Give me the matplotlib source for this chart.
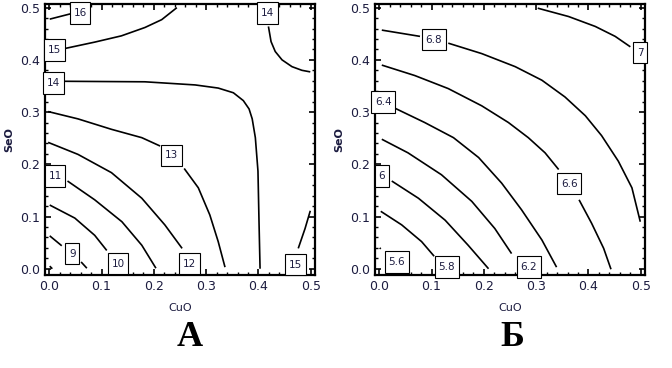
import matplotlib
matplotlib.use("Agg")
import matplotlib.pyplot as plt
from matplotlib.path import Path
from matplotlib.ticker import MultipleLocator

# contour lines, panel A (x = CuO, y = SeO)
a_lines = [
    [(0.001, 0.478), (0.040, 0.488)],
    [(0.031, 0.422), (0.087, 0.434), (0.138, 0.446), (0.183, 0.462), (0.215, 0.477), (0.244, 0.500)],
    [(0.419, 0.464), (0.424, 0.435), (0.432, 0.416), (0.445, 0.400), (0.464, 0.387), (0.483, 0.380),
     (0.499, 0.377)],
    [(0.027, 0.359), (0.183, 0.358), (0.279, 0.352), (0.323, 0.346), (0.352, 0.337), (0.371, 0.322),
     (0.382, 0.306), (0.388, 0.287), (0.394, 0.251), (0.399, 0.187), (0.401, 0.090), (0.403, 0.0)],
    [(-0.002, 0.301), (0.055, 0.287), (0.119, 0.267), (0.177, 0.251), (0.212, 0.235)],
    [(0.258, 0.192), (0.285, 0.155), (0.307, 0.103), (0.323, 0.052), (0.336, 0.003)],
    [(-0.002, 0.242), (0.055, 0.219), (0.119, 0.184), (0.177, 0.135), (0.221, 0.084), (0.254, 0.039)],
    [(0.035, 0.168), (0.087, 0.132), (0.139, 0.090), (0.177, 0.045), (0.204, 0.001)],
    [(0.001, 0.122), (0.049, 0.097), (0.087, 0.064), (0.110, 0.035)],
    [(0.001, 0.063), (0.024, 0.044)],
    [(0.061, 0.013), (0.072, 0.001)],
    [(0.001, 0.005), (0.006, 0.0)],
    [(0.499, 0.111), (0.489, 0.077), (0.476, 0.039)],
]
a_labels = ["16", "15", "14", "14", "13", "12", "11", "10", "9", "15"]
a_label_x = [0.059, 0.010, 0.417, 0.008, 0.234, 0.268, 0.011, 0.132, 0.044, 0.471]
a_label_y = [0.490, 0.419, 0.490, 0.356, 0.217, 0.010, 0.178, 0.010, 0.029, 0.008]

# panel B
b_lines = [
    [(0.303, 0.499), (0.362, 0.483), (0.413, 0.464), (0.451, 0.445), (0.480, 0.425)],
    [(0.005, 0.457), (0.078, 0.445)],
    [(0.132, 0.432), (0.196, 0.412), (0.260, 0.387), (0.311, 0.361), (0.355, 0.329), (0.394, 0.293),
     (0.425, 0.255), (0.457, 0.206), (0.483, 0.155), (0.499, 0.090)],
    [(0.005, 0.390), (0.068, 0.370), (0.132, 0.345), (0.196, 0.312), (0.247, 0.280), (0.285, 0.251),
     (0.317, 0.222), (0.343, 0.190)],
    [(0.382, 0.132), (0.406, 0.087), (0.429, 0.039), (0.443, -0.001)],
    [(0.031, 0.307), (0.087, 0.280), (0.142, 0.251), (0.190, 0.213), (0.234, 0.164), (0.272, 0.113),
     (0.311, 0.055), (0.339, 0.003)],
    [(0.005, 0.248), (0.055, 0.222), (0.119, 0.180), (0.177, 0.129), (0.221, 0.077), (0.253, 0.029)],
    [(0.024, 0.168), (0.075, 0.135), (0.126, 0.093), (0.170, 0.045), (0.209, 0.0)],
    [(0.003, 0.110), (0.043, 0.084), (0.081, 0.052), (0.105, 0.024)],
    [(0.001, 0.040), (0.003, 0.038)],
]
b_labels = ["7", "6.8", "6.6", "6.4", "6.2", "6", "5.8", "5.6"]
b_label_x = [0.499, 0.104, 0.363, 0.008, 0.286, 0.005, 0.129, 0.034]
b_label_y = [0.414, 0.439, 0.163, 0.319, 0.003, 0.178, 0.003, 0.013]

ticks = [0.0, 0.1, 0.2, 0.3, 0.4, 0.5]
tick_color = "#1c1c40"


def label_box(x0, y0, width, height, mutation_size):
    # taller than wide padding, like the Mathematica contour labels
    px = 0.35 * mutation_size
    py = 0.55 * mutation_size
    x0, y0 = x0 - px, y0 - py
    x1, y1 = x0 + width + 2 * px, y0 + height + 2 * py
    return Path([(x0, y0), (x1, y0), (x1, y1), (x0, y1), (x0, y0)],
                closed=True)


fig = plt.figure(figsize=(6.72, 3.68), dpi=100)
W, H = 672, 368
panels = [
    (45, a_lines, a_labels, a_label_x, a_label_y, "А", 190),
    (375, b_lines, b_labels, b_label_x, b_label_y, "Б", 512),
]
for left, lines, labels, lx, ly, letter, letter_x in panels:
    ax = fig.add_axes([left / W, (H - 275) / H, 270 / W, 271 / H])
    for seg in lines:
        xs = [p[0] for p in seg]
        ys = [p[1] for p in seg]
        ax.plot(xs, ys, color="black", lw=1.2, solid_capstyle="butt", solid_joinstyle="round")
    for t, x, y in zip(labels, lx, ly):
        ax.text(x, y, t, ha="center", va="center", fontsize=7.5, color=tick_color,
                bbox=dict(boxstyle=label_box, fc="white", ec="black", lw=0.8),
                zorder=5, clip_on=False)
    ax.set_xlim(-0.008, 0.508)
    ax.set_ylim(-0.012, 0.507)
    ax.set_xticks(ticks)
    ax.set_yticks(ticks)
    ax.xaxis.set_minor_locator(MultipleLocator(0.02))
    ax.yaxis.set_minor_locator(MultipleLocator(0.02))
    ax.tick_params(which="both", direction="in", top=True, right=True,
                   labelsize=9, labelcolor=tick_color, color="black")
    ax.tick_params(which="major", length=4, width=1.2)
    ax.tick_params(which="minor", length=2, width=1.0)
    for s in ax.spines.values():
        s.set_linewidth(1.6)
    ax.set_xlabel("CuO", fontsize=8, color=tick_color, labelpad=7)
    ax.set_ylabel("SeO", fontsize=8, fontweight="bold", color=tick_color, labelpad=4)
    fig.text(letter_x / W, 1 - 338 / H, letter, ha="center", va="center",
             fontsize=26, fontweight="bold", family="Liberation Serif")

fig.savefig("out.png", dpi=100)
